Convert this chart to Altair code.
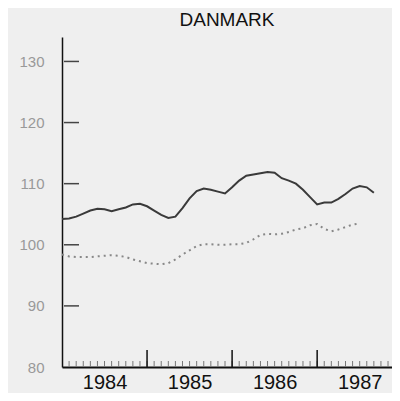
import altair as alt
import pandas as pd

start_year = 1984
solid_values = [104.2, 104.3, 104.6, 105.1, 105.6, 105.9, 105.8, 105.5, 105.8, 106.1,
                106.6, 106.7, 106.3, 105.6, 104.9, 104.4, 104.6, 106.0, 107.6, 108.8,
                109.2, 109.0, 108.7, 108.4, 109.4, 110.5, 111.3, 111.5, 111.7, 111.9,
                111.8, 110.9, 110.5, 110.0, 109.0, 107.8, 106.6, 106.9, 106.9, 107.5,
                108.3, 109.2, 109.6, 109.4, 108.5]
dotted_values = [98.4, 98.1, 98.0, 98.0, 98.0, 98.1, 98.2, 98.3, 98.2, 98.0,
                 97.6, 97.3, 97.0, 96.9, 96.8, 97.0, 97.6, 98.4, 99.1, 99.8,
                 100.1, 100.1, 100.0, 100.0, 100.1, 100.1, 100.3, 100.9, 101.6, 101.8,
                 101.7, 101.8, 102.1, 102.5, 102.7, 103.2, 103.4, 102.6, 102.2, 102.5,
                 102.9, 103.3, 103.5]
year_labels = [1984, 1985, 1986, 1987]
year_bounds = [1985, 1986, 1987]
y_ticks = [90, 100, 110, 120, 130]
y_labels = [80, 90, 100, 110, 120, 130]

solid = pd.DataFrame({"t": [start_year + i / 12 for i in range(len(solid_values))],
                      "v": solid_values})
dotted = pd.DataFrame({"t": [start_year + i / 12 for i in range(len(dotted_values))],
                       "v": dotted_values})
months = pd.DataFrame({"t": [start_year + i / 12 for i in range(1, 47)]})
bounds = pd.DataFrame({"t": year_bounds})
yt = pd.DataFrame({"v": y_ticks})

xscale = alt.Scale(domain=[1984, 1987.88], nice=False, zero=False)
yscale = alt.Scale(domain=[80, 134], nice=False, zero=False)

xaxis = alt.Axis(values=[y + 0.5 for y in year_labels], labelExpr="'' + floor(datum.value)",
                 ticks=False, grid=False, title=None, domainColor="#111", domainWidth=2,
                 labelColor="#111", labelFontSize=20, labelFont="Liberation Sans",
                 labelBaseline="alphabetic", labelPadding=21)
yaxis = alt.Axis(values=y_labels, ticks=False, grid=False, title=None, domainColor="#111",
                 domainWidth=1.5, labelColor="#999", labelFontSize=15,
                 labelFont="Liberation Sans", labelPadding=18)

base_solid = alt.Chart(solid).mark_line(color="#3a3a3a", strokeWidth=2).encode(
    x=alt.X("t:Q", scale=xscale, axis=xaxis),
    y=alt.Y("v:Q", scale=yscale, axis=yaxis),
)
line_dotted = alt.Chart(dotted).mark_line(color="#888", strokeWidth=2, strokeDash=[2, 4]).encode(
    x=alt.X("t:Q", scale=xscale),
    y=alt.Y("v:Q", scale=yscale),
)
minor = alt.Chart(months).mark_rule(color="#777", strokeWidth=1).encode(
    x=alt.X("t:Q", scale=xscale),
    y=alt.value(330),
    y2=alt.value(324),
)
major = alt.Chart(bounds).mark_rule(color="#111", strokeWidth=1.5).encode(
    x=alt.X("t:Q", scale=xscale),
    y=alt.value(330),
    y2=alt.value(313),
)
yticks = alt.Chart(yt).mark_rule(color="#444", strokeWidth=1.5).encode(
    y=alt.Y("v:Q", scale=yscale),
    x=alt.value(2),
    x2=alt.value(17),
)

chart = alt.layer(base_solid, line_dotted, minor, major, yticks).properties(
    width=330,
    height=330,
    autosize=alt.AutoSizeParams(type="none"),
    padding={"left": 54, "top": 29, "right": 0, "bottom": 26},
    background="#efefef",
    title=alt.Title("DANMARK", fontSize=19, font="Liberation Sans", fontWeight="normal",
                    color="#111", anchor="middle", dx=0, offset=7),
).configure_view(stroke=None)

chart.save("out.html", embed_options={"renderer": "svg", "actions": False})
